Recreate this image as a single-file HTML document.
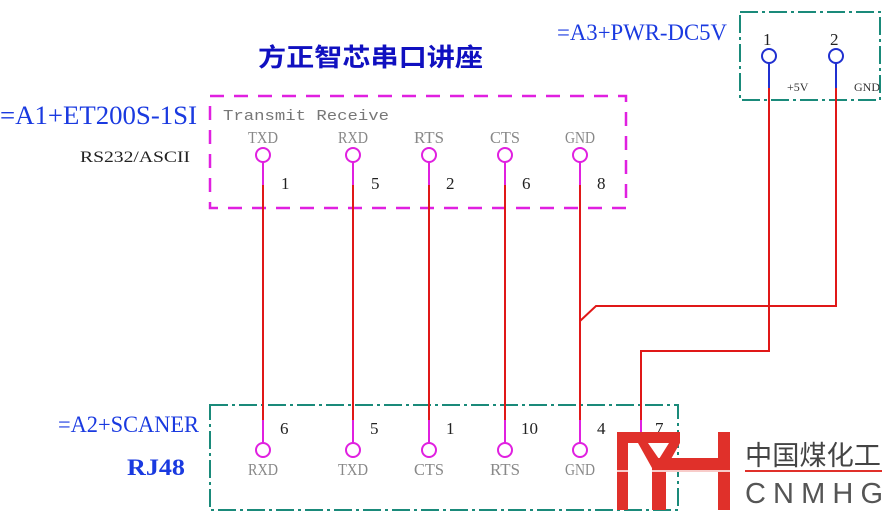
<!DOCTYPE html>
<html><head><meta charset="utf-8"><style>
body{margin:0;width:889px;height:515px;background:#fff;overflow:hidden}
svg{display:block}
</style></head><body>
<svg width="889" height="515" xmlns="http://www.w3.org/2000/svg" font-family="Liberation Serif, serif">
<rect x="210" y="96" width="416" height="112" fill="none" stroke="#e020e0" stroke-width="2.5" stroke-dasharray="14,10"/>
<rect x="210" y="405" width="468" height="105" fill="none" stroke="#1a8a7a" stroke-width="2" stroke-dasharray="18,4,3,4"/>
<rect x="740" y="12" width="140" height="88" fill="none" stroke="#1a8a7a" stroke-width="2" stroke-dasharray="18,4,3,4"/>
<text x="258" y="66" font-family="Liberation Sans, Noto Sans CJK SC, sans-serif" font-size="25" font-weight="bold" fill="#1010c0" textLength="225" lengthAdjust="spacingAndGlyphs">方正智芯串口讲座</text>
<text x="0" y="124" font-size="26" fill="#1a3ae0" textLength="197" lengthAdjust="spacingAndGlyphs">=A1+ET200S-1SI</text>
<text x="80" y="162" font-size="16" fill="#222" textLength="110" lengthAdjust="spacingAndGlyphs">RS232/ASCII</text>
<text x="223" y="120" font-family="Liberation Mono, monospace" font-size="15" fill="#777" textLength="166" lengthAdjust="spacingAndGlyphs">Transmit Receive</text>
<text x="557" y="40" font-size="23" fill="#1a3ae0" textLength="170" lengthAdjust="spacingAndGlyphs">=A3+PWR-DC5V</text>
<text x="58" y="432" font-size="23" fill="#1a3ae0" textLength="141" lengthAdjust="spacingAndGlyphs">=A2+SCANER</text>
<text x="127" y="475" font-size="23" font-weight="bold" fill="#1a3ae0" textLength="58" lengthAdjust="spacingAndGlyphs">RJ48</text>
<g stroke="#e01818" stroke-width="2" fill="none">
<line x1="263" y1="185" x2="263" y2="438"/>
<line x1="353" y1="185" x2="353" y2="438"/>
<line x1="429" y1="185" x2="429" y2="438"/>
<line x1="505" y1="185" x2="505" y2="438"/>
<line x1="580" y1="185" x2="580" y2="438"/>
<polyline points="769,88 769,351 641,351 641,438"/>
<polyline points="836,88 836,306 596,306 580,321"/>
</g>
<g stroke="#e020e0" stroke-width="2" fill="none">
<line x1="263" y1="162" x2="263" y2="185"/><circle cx="263" cy="155" r="7"/>
<line x1="353" y1="162" x2="353" y2="185"/><circle cx="353" cy="155" r="7"/>
<line x1="429" y1="162" x2="429" y2="185"/><circle cx="429" cy="155" r="7"/>
<line x1="505" y1="162" x2="505" y2="185"/><circle cx="505" cy="155" r="7"/>
<line x1="580" y1="162" x2="580" y2="185"/><circle cx="580" cy="155" r="7"/>
<line x1="263" y1="420" x2="263" y2="443"/><circle cx="263" cy="450" r="7"/>
<line x1="353" y1="420" x2="353" y2="443"/><circle cx="353" cy="450" r="7"/>
<line x1="429" y1="420" x2="429" y2="443"/><circle cx="429" cy="450" r="7"/>
<line x1="505" y1="420" x2="505" y2="443"/><circle cx="505" cy="450" r="7"/>
<line x1="580" y1="420" x2="580" y2="443"/><circle cx="580" cy="450" r="7"/>
<line x1="641" y1="420" x2="641" y2="440"/>
</g>
<g stroke="#2030d0" stroke-width="2" fill="none">
<circle cx="769" cy="56" r="7"/><line x1="769" y1="63" x2="769" y2="88"/>
<circle cx="836" cy="56" r="7"/><line x1="836" y1="63" x2="836" y2="88"/>
</g>
<g font-size="17" fill="#888" text-anchor="middle">
<text x="263" y="143" textLength="30" lengthAdjust="spacingAndGlyphs">TXD</text><text x="353" y="143" textLength="30" lengthAdjust="spacingAndGlyphs">RXD</text><text x="429" y="143" textLength="30" lengthAdjust="spacingAndGlyphs">RTS</text><text x="505" y="143" textLength="30" lengthAdjust="spacingAndGlyphs">CTS</text><text x="580" y="143" textLength="30" lengthAdjust="spacingAndGlyphs">GND</text>
<text x="263" y="475" textLength="30" lengthAdjust="spacingAndGlyphs">RXD</text><text x="353" y="475" textLength="30" lengthAdjust="spacingAndGlyphs">TXD</text><text x="429" y="475" textLength="30" lengthAdjust="spacingAndGlyphs">CTS</text><text x="505" y="475" textLength="30" lengthAdjust="spacingAndGlyphs">RTS</text><text x="580" y="475" textLength="30" lengthAdjust="spacingAndGlyphs">GND</text>
</g>
<g font-size="17" fill="#222">
<text x="281" y="189">1</text><text x="371" y="189">5</text><text x="446" y="189">2</text><text x="522" y="189">6</text><text x="597" y="189">8</text>
<text x="280" y="434">6</text><text x="370" y="434">5</text><text x="446" y="434">1</text><text x="521" y="434">10</text><text x="597" y="434">4</text><text x="655" y="434">7</text>
<text x="763" y="45">1</text><text x="830" y="45">2</text>
</g>
<text x="787" y="91" font-size="12" fill="#333">+5V</text>
<text x="854" y="91" font-size="12" fill="#333">GND</text>
<g fill="#e0302a">
<rect x="617" y="432" width="11" height="78"/>
<rect x="617" y="432" width="63" height="11"/>
<polygon points="638,443 648,443 659,459 669,443 680,443 666,468 652,468"/>
<rect x="652" y="458" width="14" height="52"/>
<rect x="666" y="458" width="53" height="14"/>
<rect x="718" y="432" width="12" height="78"/>
</g>
<line x1="617" y1="471" x2="730" y2="471" stroke="#fff" stroke-width="1.5"/>
<text x="745" y="465" font-family="Liberation Sans, Noto Sans CJK SC, sans-serif" font-size="27" fill="#444" textLength="136" lengthAdjust="spacingAndGlyphs">中国煤化工</text>
<line x1="745" y1="471" x2="882" y2="471" stroke="#e0302a" stroke-width="2"/>
<text x="745" y="503" font-family="Liberation Sans, sans-serif" font-size="29" fill="#555" textLength="138" lengthAdjust="spacing">CNMHG</text>
</svg>
</body></html>
